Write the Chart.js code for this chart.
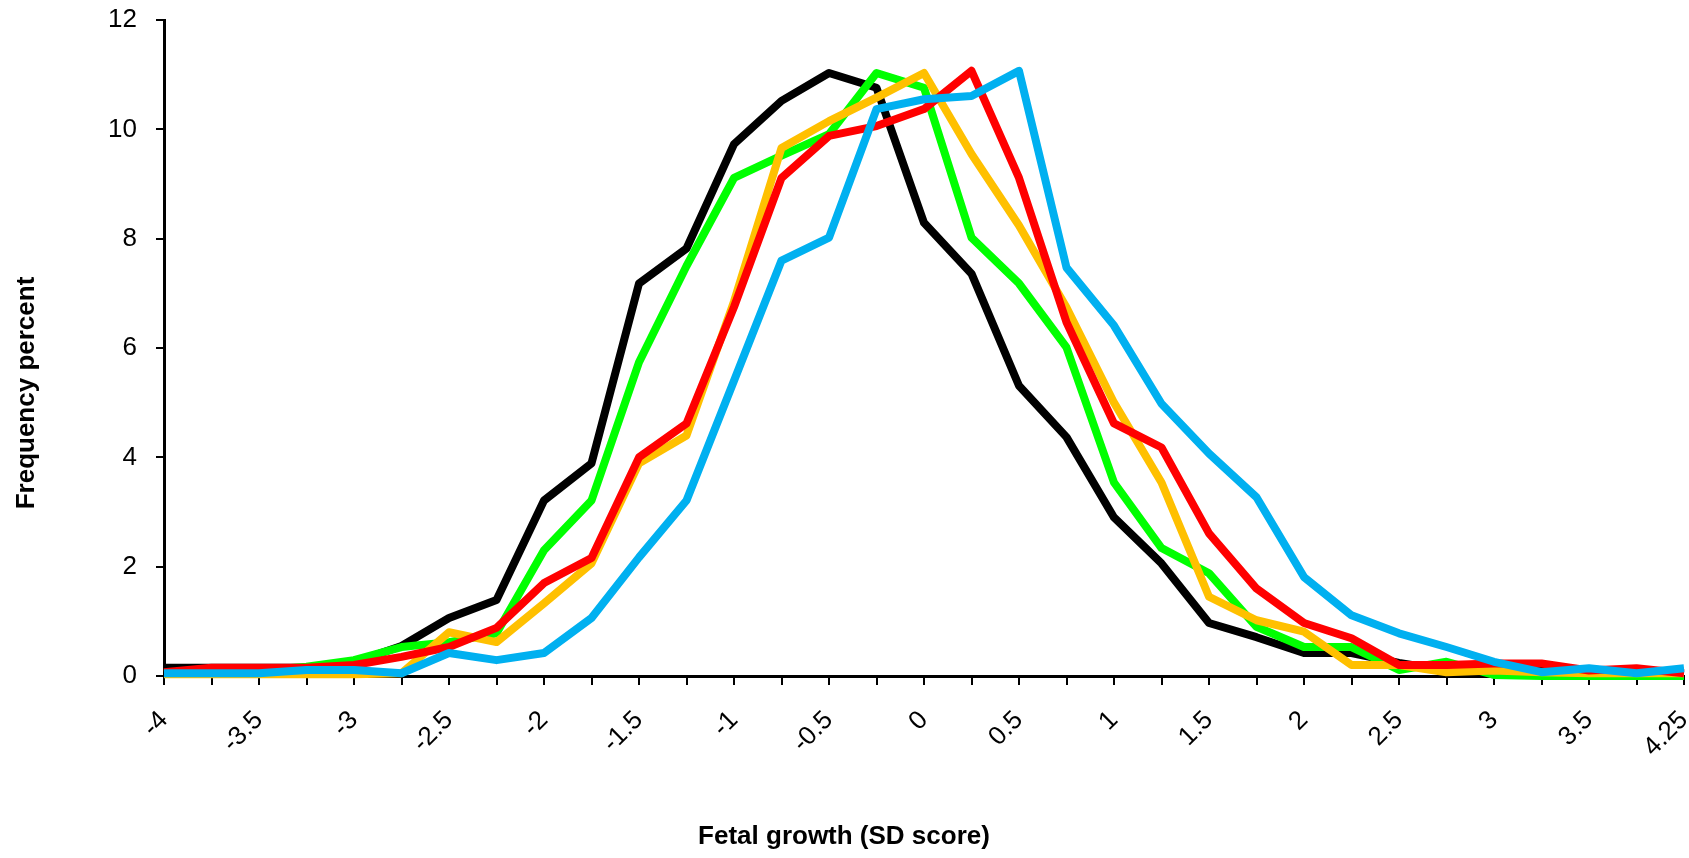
<!DOCTYPE html>
<html>
<head>
<meta charset="utf-8">
<script src="https://cdn.jsdelivr.net/npm/chart.js@4.4.1/dist/chart.umd.min.js"></script>
<style>
    html, body { margin: 0; padding: 0; background: #fff; }
    #wrap { width: 1689px; height: 858px; position: relative; }
</style>
</head>
<body>
<div id="wrap"><canvas id="fetalChart"></canvas></div>
<script>
const categories = ['-4', '-3.75', '-3.5', '-3.25', '-3', '-2.75', '-2.5', '-2.25', '-2', '-1.75', '-1.5',
    '-1.25', '-1', '-0.75', '-0.5', '-0.25', '0', '0.25', '0.5', '0.75', '1', '1.25', '1.5', '1.75',
    '2', '2.25', '2.5', '2.75', '3', '3.25', '3.5', '3.75', '4.25'];

const blackSeries = [0.15, 0.15, 0.15, 0.15, 0.25, 0.55, 1.06, 1.39, 3.21, 3.89, 7.18, 7.82, 9.73, 10.52, 11.03,
    10.76, 8.29, 7.36, 5.31, 4.37, 2.90, 2.06, 0.97, 0.71, 0.42, 0.42, 0.24, 0.1, 0.03, 0.1, 0.12, 0.08, 0.08];
const greenSeries = [0.05, 0.08, 0.1, 0.17, 0.29, 0.53, 0.62, 0.78, 2.30, 3.21, 5.74, 7.5, 9.11, 9.52, 9.91,
    11.03, 10.76, 8.02, 7.18, 6.01, 3.54, 2.34, 1.88, 0.9, 0.53, 0.53, 0.11, 0.26, 0.02, 0, 0, 0, 0];
const orangeSeries = [0.03, 0.03, 0.03, 0.03, 0.03, 0.05, 0.8, 0.62, 1.33, 2.06, 3.89, 4.4, 6.85, 9.66, 10.15,
    10.58, 11.03, 9.55, 8.24, 6.74, 5.0, 3.54, 1.45, 1.02, 0.81, 0.2, 0.2, 0.07, 0.1, 0.07, 0.05, 0.05, 0.05];
const redSeries = [0.07, 0.15, 0.15, 0.15, 0.2, 0.35, 0.53, 0.88, 1.7, 2.16, 4.0, 4.62, 6.75, 9.11, 9.88,
    10.06, 10.37, 11.07, 9.11, 6.47, 4.62, 4.18, 2.61, 1.6, 0.97, 0.69, 0.2, 0.2, 0.23, 0.23, 0.1, 0.14, 0.05];
const blueSeries = [0.05, 0.05, 0.05, 0.11, 0.11, 0.05, 0.42, 0.29, 0.42, 1.06, 2.17, 3.21, 5.4, 7.6, 8.02,
    10.37, 10.55, 10.61, 11.07, 7.47, 6.41, 4.98, 4.07, 3.27, 1.81, 1.11, 0.78, 0.53, 0.26, 0.07, 0.14, 0.05, 0.14];

const yTicks = [0, 2, 4, 6, 8, 10, 12];

const FONT = "'Liberation Sans', Arial, sans-serif";
const Y_TITLE = 'Frequency percent';
const X_TITLE = 'Fetal growth (SD score)';

function line(data, color, order) {
    return {
        data: data,
        borderColor: color,
        backgroundColor: color,
        borderWidth: 8,
        borderJoinStyle: 'round',
        pointRadius: 0,
        tension: 0,
        fill: false,
        clip: false,
        order: order
    };
}

// both axis titles sit off-centre in the original, so draw them by hand
const axisTitlesPlugin = {
    id: 'axisTitles',
    afterDraw(chart) {
        const c = chart.ctx;
        const area = chart.chartArea;
        c.save();
        c.font = "bold 26px " + FONT;
        c.fillStyle = '#000';
        c.textAlign = 'center';
        c.textBaseline = 'middle';
        c.fillText(X_TITLE, area.left + 680, 837);
        c.translate(27, (area.top + area.bottom) / 2 + 45);
        c.rotate(-Math.PI / 2);
        c.fillText(Y_TITLE, 0, 0);
        c.restore();
    }
};

function noPad(scale) {
    scale.paddingTop = 0;
    scale.paddingBottom = 0;
    scale.paddingLeft = 0;
    scale.paddingRight = 0;
}

document.addEventListener('DOMContentLoaded', () => {
    const ctx = document.getElementById('fetalChart');

    new Chart(ctx, {
        type: 'line',
        data: {
            labels: categories,
            datasets: [
                line(blackSeries, '#000000', 5),
                line(greenSeries, '#00FF00', 4),
                line(orangeSeries, '#FFC000', 3),
                line(redSeries, '#FF0000', 2),
                line(blueSeries, '#00B0F0', 1)
            ]
        },
        plugins: [axisTitlesPlugin],
        options: {
            responsive: true,
            maintainAspectRatio: false,
            animation: false,
            layout: { padding: { left: 8, right: 5, top: 20, bottom: 4 } },
            plugins: {
                legend: { display: false },
                tooltip: { enabled: false }
            },
            scales: {
                x: {
                    offset: false,
                    grid: {
                        drawOnChartArea: false,
                        drawTicks: true,
                        tickLength: 9,
                        color: '#000',
                        lineWidth: 2
                    },
                    border: { display: true, color: '#000', width: 3 },
                    ticks: {
                        autoSkip: false,
                        minRotation: 45,
                        maxRotation: 45,
                        padding: 20,
                        color: '#000',
                        font: { family: FONT, size: 26 },
                        callback: function(val, i) {
                            return i % 2 === 0 ? categories[i] : '';
                        }
                    },
                    title: { display: false },
                    afterFit: (scale) => { scale.height = 178; noPad(scale); }
                },
                y: {
                    min: 0,
                    max: 12,
                    grid: {
                        drawOnChartArea: false,
                        drawTicks: true,
                        tickLength: 8,
                        color: '#000',
                        lineWidth: 2
                    },
                    border: { display: true, color: '#000', width: 3 },
                    afterBuildTicks: (scale) => {
                        scale.ticks = yTicks.map(v => ({ value: v }));
                    },
                    ticks: {
                        color: '#000',
                        padding: 19,
                        font: { family: FONT, size: 26 }
                    },
                    title: { display: false },
                    afterFit: (scale) => { scale.width = 156; noPad(scale); }
                }
            }
        }
    });
});
</script>
</body>
</html>
